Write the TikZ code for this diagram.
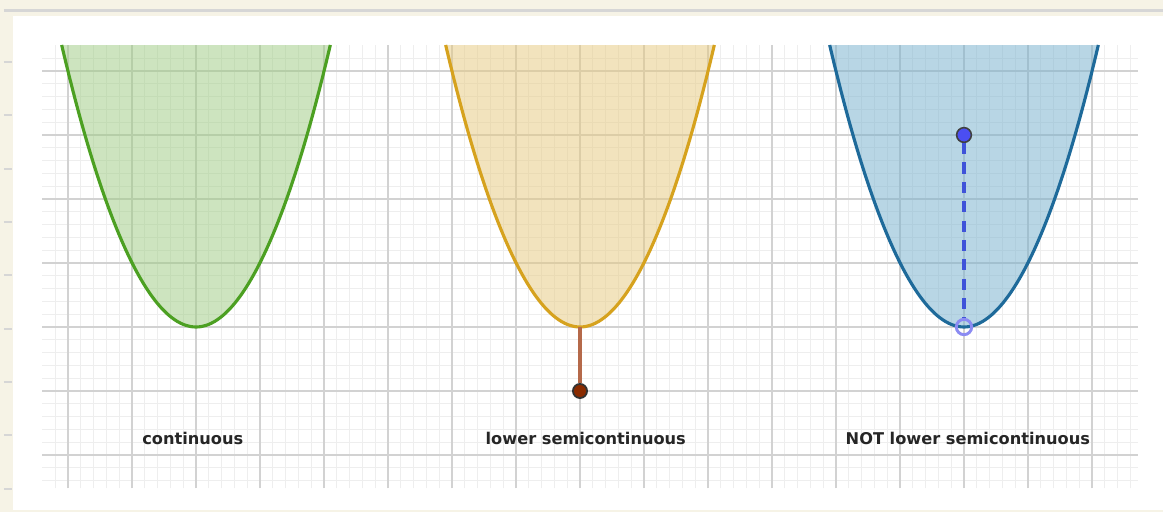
\documentclass[tikz,border=0pt]{standalone}
\usepackage{fontspec}
\newfontfamily\labelfont{DejaVu Sans}

\begin{document}
\begin{tikzpicture}[
    minorline/.style={draw=gridminor, line width=0.5pt},
    majorline/.style={draw=gridmajor, line width=0.9pt},
    curve/.style={line width=1.4pt},
    caption/.style={font=\labelfont\bfseries\fontsize{7.2}{8}\selectfont,
                    text=black!85, anchor=base, inner sep=0pt}
]
    \definecolor{paper}{HTML}{F6F3E6}
    \definecolor{rule}{HTML}{D6D6D6}
    \definecolor{gridminor}{HTML}{EEEEEE}
    \definecolor{gridmajor}{HTML}{D2D2D2}
    \definecolor{contfill}{HTML}{9CCB80}
    \definecolor{contline}{HTML}{4CA022}
    \definecolor{lscfill}{HTML}{E7C97D}
    \definecolor{lscline}{HTML}{D6A21E}
    \definecolor{lscstem}{HTML}{B5694A}
    \definecolor{lscdot}{HTML}{8A2B00}
    \definecolor{nlscfill}{HTML}{73AFCD}
    \definecolor{nlscline}{HTML}{1E6A9A}
    \definecolor{nlscdot}{HTML}{4B4EF2}
    \definecolor{nlscdash}{HTML}{3F53D9}
    \definecolor{nlschole}{HTML}{8B8BF2}

    \useasboundingbox (-3.0625,-2.8906) rectangle (15.1094,5.1094);

    % window frame
    \fill[paper] (-3.0625,-2.8906) rectangle (15.1094,5.1094);
    \draw[rule, line width=1.3pt] (-3.0,4.945) -- (15.1094,4.945);
    \foreach \k in {0,...,8}
        \draw[rule, line width=1pt] (-3.0,{4.1406-0.8333*\k}) -- (-2.875,{4.1406-0.8333*\k});
    \fill[white] (-2.859,-2.859) rectangle (15.1094,4.859);

    % grid
    \foreach \i in {-11,...,73}
        \draw[minorline] (\i/5,-2.516) -- (\i/5,4.406);
    \foreach \j in {-12,...,21}
        \draw[minorline] (-2.406,\j/5) -- (14.72,\j/5);
    \foreach \i in {-2,...,14}
        \draw[majorline] (\i,-2.516) -- (\i,4.406);
    \foreach \j in {-2,...,4}
        \draw[majorline] (-2.406,\j) -- (14.72,\j);

    % continuous
    \begin{scope}[shift={(0,0)}]
        \fill[contfill, fill opacity=0.5] (-2.099,4.406) parabola bend (0,0) (2.099,4.406) -- cycle;
        \draw[curve, contline] (-2.099,4.406) parabola bend (0,0) (2.099,4.406);
    \end{scope}
    % lower semicontinuous
    \begin{scope}[shift={(6,0)}]
        \fill[lscfill, fill opacity=0.5] (-2.099,4.406) parabola bend (0,0) (2.099,4.406) -- cycle;
        \draw[curve, lscline] (-2.099,4.406) parabola bend (0,0) (2.099,4.406);
    \end{scope}
    % not lower semicontinuous
    \begin{scope}[shift={(12,0)}]
        \fill[nlscfill, fill opacity=0.5] (-2.099,4.406) parabola bend (0,0) (2.099,4.406) -- cycle;
        \draw[curve, nlscline] (-2.099,4.406) parabola bend (0,0) (2.099,4.406);
    \end{scope}

    % points
    \coordinate (lscbottom) at (6,0);
    \node[circle, draw=black!80, line width=0.8pt, fill=lscdot,
          minimum size=0.22cm, inner sep=0pt] (lscvalue) at (6,-1) {};
    \draw[lscstem, line width=1.6pt] (lscbottom) -- (lscvalue);

    \node[circle, draw=black!75, line width=0.7pt, fill=nlscdot,
          minimum size=0.23cm, inner sep=0pt] (nlscvalue) at (12,3) {};
    \node[circle, draw=nlschole, line width=1.3pt,
          minimum size=0.24cm, inner sep=0pt] (nlschole) at (12,0) {};
    \draw[nlscdash, line width=1.7pt, dash pattern=on 5pt off 3.6pt] (nlscvalue) -- (nlschole);

    % labels
    \node[caption] (contlabel) at (-0.05,-1.84) {continuous};
    \node[caption] (lsclabel)  at (6.09,-1.84) {lower semicontinuous};
    \node[caption] (nlsclabel) at (12.06,-1.84) {NOT lower semicontinuous};
\end{tikzpicture}
\end{document}
